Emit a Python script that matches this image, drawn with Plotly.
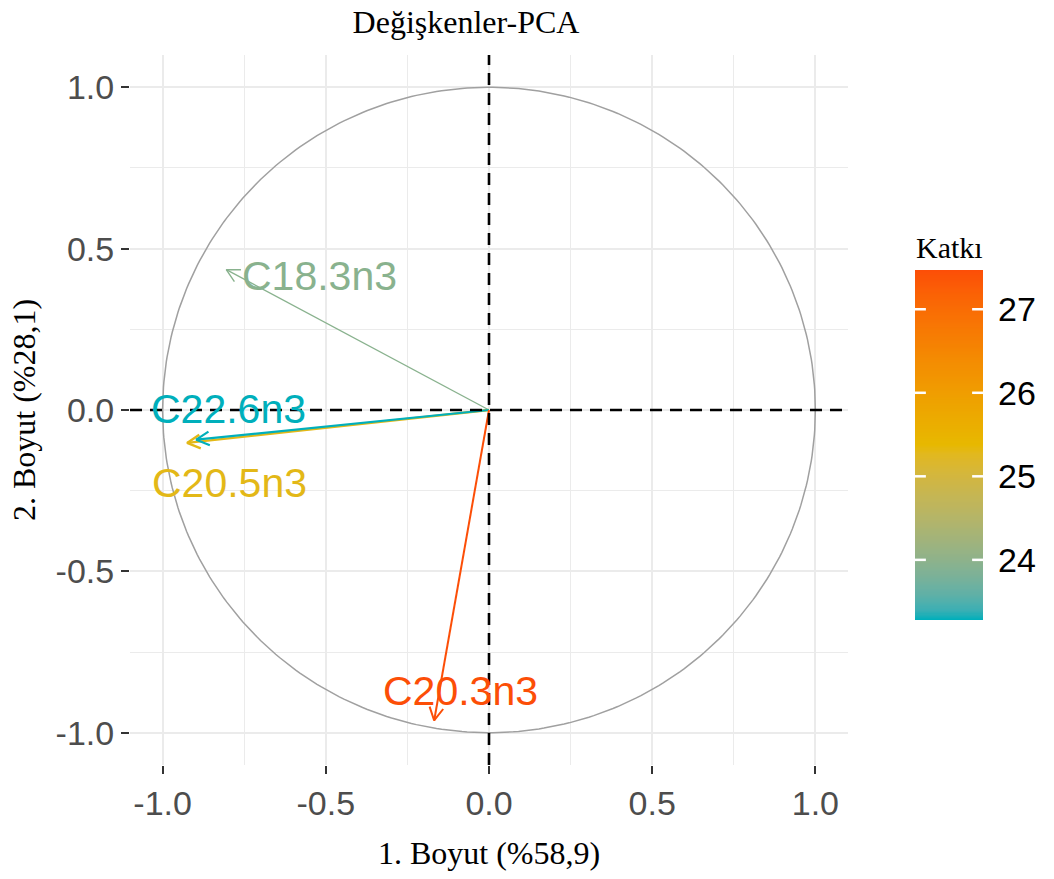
import numpy as np
import plotly.graph_objects as go

# ---- data ----
variables = ["C18.3n3", "C22.6n3", "C20.5n3", "C20.3n3"]
dim1 = [-0.805, -0.897, -0.925, -0.168]
dim2 = [0.435, -0.092, -0.102, -0.962]
contrib = [23.95, 23.28, 25.30, 27.47]
x_ticks = [-1.0, -0.5, 0.0, 0.5, 1.0]
cbar_ticks = [24, 25, 26, 27]

# label offsets (styling, data units, relative to arrow tips)
label_dx = [0.285, 0.10, 0.13, 0.08]
label_dy = [-0.02, 0.095, -0.125, 0.09]

cmin, cmax = 23.28, 27.47
stops = ["#00AFBB", "#E7B800", "#FC4E07"]


# ---- Lab interpolation (like ggplot2 / scales) ----
def hex2rgb(h):
    h = h.lstrip("#")
    return np.array([int(h[i:i + 2], 16) for i in (0, 2, 4)], dtype=float) / 255


def srgb2lin(c):
    return np.where(c <= 0.04045, c / 12.92, ((c + 0.055) / 1.055) ** 2.4)


def lin2srgb(c):
    return np.where(c <= 0.0031308, c * 12.92, 1.055 * np.power(np.clip(c, 0, None), 1 / 2.4) - 0.055)


M = np.array([[0.4124, 0.3576, 0.1805], [0.2126, 0.7152, 0.0722], [0.0193, 0.1192, 0.9505]])
Minv = np.linalg.inv(M)
WHITE = np.array([0.95047, 1.0, 1.08883])


def f_lab(t):
    d = 6 / 29
    return np.where(t > d ** 3, np.cbrt(t), t / (3 * d * d) + 4 / 29)


def finv_lab(t):
    d = 6 / 29
    return np.where(t > d, t ** 3, 3 * d * d * (t - 4 / 29))


def rgb2lab(rgb):
    xyz = M @ srgb2lin(rgb) / WHITE
    fx, fy, fz = f_lab(xyz)
    return np.array([116 * fy - 16, 500 * (fx - fy), 200 * (fy - fz)])


def lab2rgb(lab):
    L, a, b = lab
    fy = (L + 16) / 116
    fx = fy + a / 500
    fz = fy - b / 200
    xyz = finv_lab(np.array([fx, fy, fz])) * WHITE
    return np.clip(lin2srgb(Minv @ xyz), 0, 1)


stop_labs = [rgb2lab(hex2rgb(s)) for s in stops]


def colour_frac(t):
    t = min(max(t, 0), 1)
    if t <= 0.5:
        a, b, f = stop_labs[0], stop_labs[1], t / 0.5
    else:
        a, b, f = stop_labs[1], stop_labs[2], (t - 0.5) / 0.5
    c = lab2rgb(a + (b - a) * f) * 255
    return "rgb(%d,%d,%d)" % tuple(np.round(c))


def colour_at(v):
    return colour_frac((v - cmin) / (cmax - cmin))


fine_scale = [[float(t), colour_frac(t)] for t in np.linspace(0, 1, 41)]

# ---- layout geometry (pixels) ----
W, H = 1054, 879
ML, MR, MT, MB = 130, 14, 55, 114
PW, PH = W - ML - MR, H - MT - MB
main_dom = [0, (848 - ML) / PW]
cb_dom_x = [(915 - ML) / PW, (983 - ML) / PW]
cb_dom_y = [(H - MB - 620) / PH, (H - MB - 270) / PH]

fig = go.Figure()
grid_c = "#EBEBEB"

# circle
th = np.linspace(0, 2 * np.pi, 400)
fig.add_trace(go.Scatter(x=np.cos(th), y=np.sin(th), mode="lines",
                         line=dict(color="#A0A0A0", width=1.5),
                         hoverinfo="skip", showlegend=False))

# dashed axes lines
fig.add_shape(type="line", xref="x", yref="y domain", x0=0, x1=0, y0=0, y1=1,
              line=dict(color="black", width=2.6, dash="12px,8px"))
fig.add_shape(type="line", xref="x domain", yref="y", x0=0, x1=1, y0=0, y1=0,
              line=dict(color="black", width=2.6, dash="12px,8px"))

# arrows
order = [0, 2, 1, 3]
widths = {0: 1.4, 1: 2.2, 2: 2.4, 3: 2.0}
head_len = 0.045
head_ang = np.deg2rad(28)
for i in order:
    x1, y1 = dim1[i], dim2[i]
    col = colour_at(contrib[i])
    ang = np.arctan2(y1, x1)
    hx1 = x1 - head_len * np.cos(ang - head_ang)
    hy1 = y1 - head_len * np.sin(ang - head_ang)
    hx2 = x1 - head_len * np.cos(ang + head_ang)
    hy2 = y1 - head_len * np.sin(ang + head_ang)
    fig.add_trace(go.Scatter(
        x=[0, x1, None, hx1, x1, hx2],
        y=[0, y1, None, hy1, y1, hy2],
        mode="lines", line=dict(color=col, width=widths[i]),
        hoverinfo="skip", showlegend=False))

for i in range(len(variables)):
    fig.add_annotation(x=dim1[i] + label_dx[i], y=dim2[i] + label_dy[i],
                       xref="x", yref="y", text=variables[i], showarrow=False,
                       font=dict(family="Liberation Sans, Arial", size=41,
                                 color=colour_at(contrib[i])))

# ---- colour bar drawn as heatmap on its own axes ----
cb_vals = np.linspace(cmin, cmax, 300)
fig.add_trace(go.Heatmap(
    z=cb_vals.reshape(-1, 1), x=[0], y=cb_vals,
    zmin=cmin, zmax=cmax, colorscale=fine_scale, showscale=False,
    hoverinfo="skip", xaxis="x2", yaxis="y2"))

for t in cbar_ticks:
    for xs, xe in [(0, 0.16), (0.84, 1)]:
        fig.add_shape(type="line", xref="x2 domain", yref="y2", x0=xs, x1=xe, y0=t, y1=t,
                      line=dict(color="white", width=2.5))

fig.add_annotation(x=0.5, y=1, xref="x2 domain", yref="y2 domain",
                   xanchor="center", yanchor="bottom", yshift=4,
                   text="Katkı", showarrow=False,
                   font=dict(family="Liberation Serif, Times New Roman", size=30, color="black"))

axis_common = dict(
    range=[-1.1, 1.1], tickvals=x_ticks, ticktext=["%.1f" % v for v in x_ticks],
    showgrid=True, gridcolor=grid_c, gridwidth=2,
    minor=dict(dtick=0.25, tick0=0, showgrid=True, gridcolor=grid_c, gridwidth=1.4),
    zeroline=False, showline=False,
    ticks="outside", ticklen=8, tickwidth=2, tickcolor="#333333",
    tickfont=dict(family="Liberation Sans, Arial", size=34, color="#4D4D4D"),
)
title_font = dict(family="Liberation Serif, Times New Roman", size=32, color="black")

fig.update_layout(
    width=W, height=H,
    margin=dict(l=ML, r=MR, t=MT, b=MB, autoexpand=False),
    paper_bgcolor="white", plot_bgcolor="white",
    title=dict(text="Değişkenler-PCA", x=466 / W, xanchor="center",
               y=1 - 22 / H, yanchor="middle", font=title_font),
    xaxis=dict(**axis_common, domain=main_dom,
               title=dict(text="1. Boyut (%58,9)", standoff=20, font=title_font)),
    yaxis=dict(**axis_common,
               title=dict(text="2. Boyut (%28,1)", standoff=10, font=title_font)),
    xaxis2=dict(domain=cb_dom_x, anchor="y2", range=[-0.5, 0.5], visible=False, fixedrange=True),
    yaxis2=dict(domain=cb_dom_y, anchor="x2", side="right", range=[cmin, cmax],
                tickvals=cbar_ticks, ticktext=[str(t) for t in cbar_ticks],
                ticks="", showgrid=False, zeroline=False, showline=False,
                ticklabelstandoff=14,
                tickfont=dict(family="Liberation Sans, Arial", size=34, color="black")),
)

fig.write_html("out.html")
